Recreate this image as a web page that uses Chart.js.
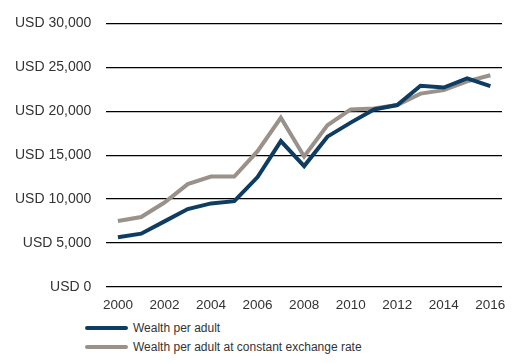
<!DOCTYPE html>
<html>
<head>
<meta charset="utf-8">
<script src="https://cdn.jsdelivr.net/npm/chart.js@4.4.1/dist/chart.umd.min.js"></script>
<style>
  html, body { margin: 0; padding: 0; background: #fff; }
  #wrap { position: relative; width: 528px; height: 363px; font-family: "Liberation Sans", Arial, sans-serif; }
  #box { position: absolute; left: 0; top: 0; width: 528px; height: 315px; }
  .leg { position: absolute; left: 85px; font-size: 12px; color: #333; display: flex; align-items: center; }
  .leg span.sw { display: inline-block; width: 43px; height: 4px; margin-right: 5px; border-radius: 2px; }
</style>
</head>
<body>
<div id="wrap">
  <div id="box"><canvas id="c"></canvas></div>
  <div class="leg" style="top:321px"><span class="sw" style="background:#0f3d62"></span>Wealth per adult</div>
  <div class="leg" style="top:340px"><span class="sw" style="background:#9a918a"></span>Wealth per adult at constant exchange rate</div>
</div>
<script>
const years = ['2000','2001','2002','2003','2004','2005','2006','2007','2008','2009','2010','2011','2012','2013','2014','2015','2016'];
const wealthPerAdult = [5650, 6050, 7450, 8850, 9500, 9750, 12500, 16600, 13750, 17100, 18700, 20200, 20700, 22900, 22700, 23750, 22850];
const wealthConstFx = [7500, 7950, 9600, 11700, 12550, 12550, 15450, 19250, 14850, 18400, 20200, 20300, 20700, 22000, 22400, 23400, 24100];
const yTicks = [0, 5000, 10000, 15000, 20000, 25000, 30000];

new Chart(document.getElementById('c'), {
  type: 'line',
  data: {
    labels: years,
    datasets: [
      { label: 'Wealth per adult', data: wealthPerAdult, borderColor: '#0f3d62', borderWidth: 4, pointRadius: 0, tension: 0 },
      { label: 'Wealth per adult at constant exchange rate', data: wealthConstFx, borderColor: '#9a918a', borderWidth: 4, pointRadius: 0, tension: 0 }
    ]
  },
  options: {
    responsive: true,
    maintainAspectRatio: false,
    animation: false,
    layout: { padding: { left: 0, right: 26, top: 14, bottom: 0 } },
    plugins: { legend: { display: false }, tooltip: { enabled: false } },
    scales: {
      x: {
        offset: true,
        grid: { display: false },
        border: { display: false },
        ticks: {
          autoSkip: false,
          maxRotation: 0,
          padding: 2,
          color: '#333',
          font: { family: 'Liberation Sans', size: 13.5 },
          callback: (v, i) => (i % 2 === 0 ? years[i] : '')
        }
      },
      y: {
        min: 0,
        max: 30000,
        afterBuildTicks: axis => { axis.ticks = yTicks.map(v => ({ value: v })); },
        grid: { color: '#000', lineWidth: 1.2, drawTicks: false },
        border: { display: false },
        ticks: {
          padding: 15,
          color: '#333',
          font: { family: 'Liberation Sans', size: 14 },
          callback: v => 'USD ' + v.toLocaleString('en-US')
        }
      }
    }
  }
});
</script>
</body>
</html>
